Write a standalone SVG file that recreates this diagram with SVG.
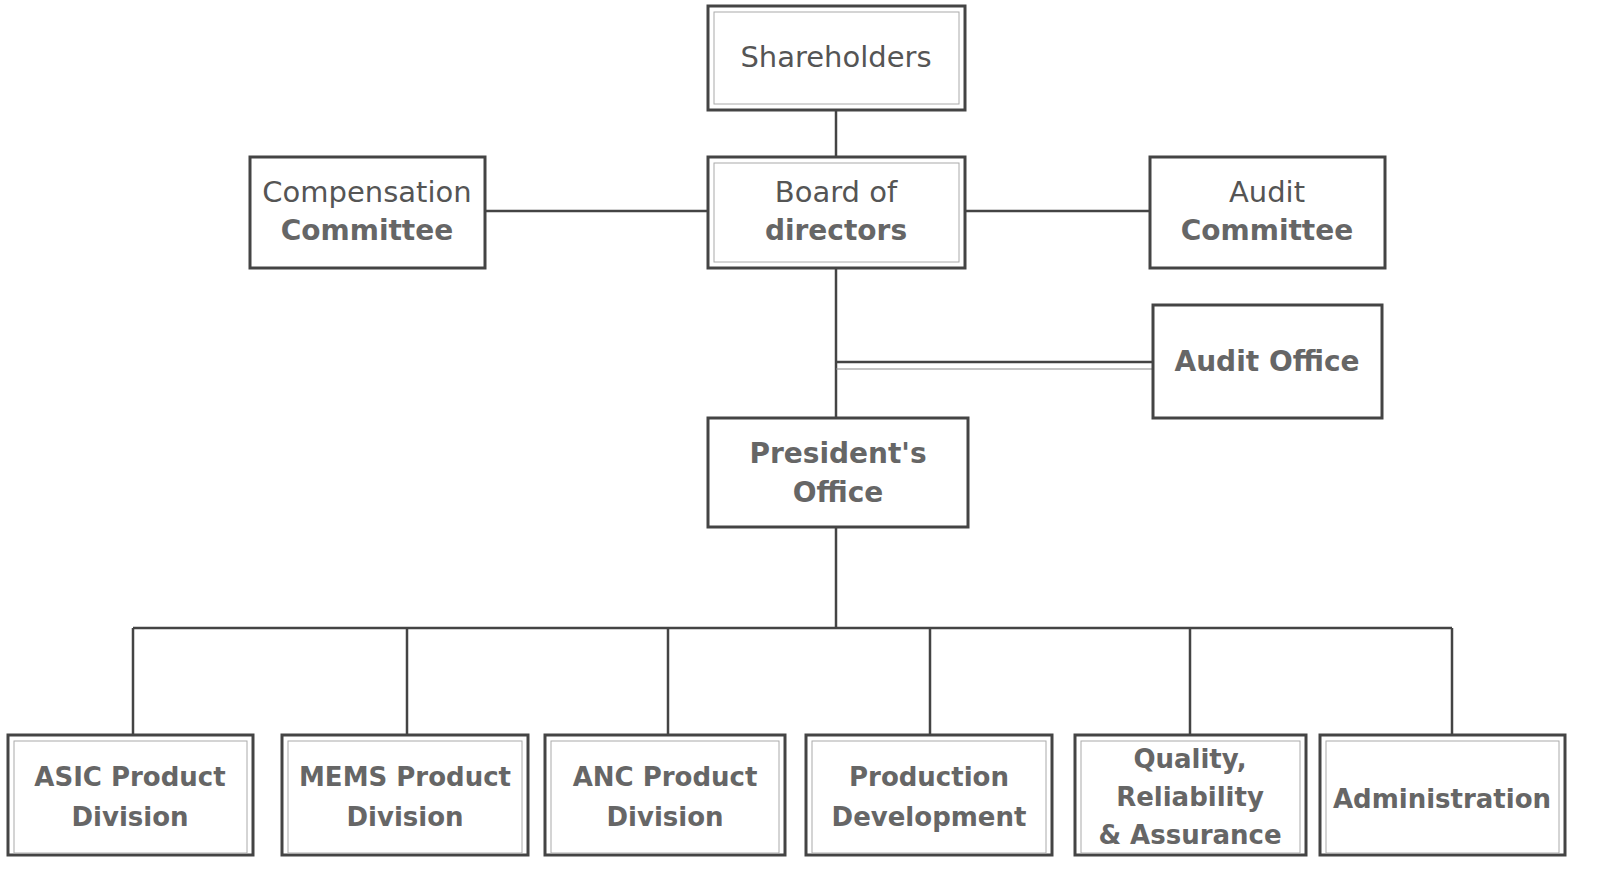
<svg xmlns="http://www.w3.org/2000/svg" width="1609" height="879" viewBox="0 0 1609 879">
<style>
.box{fill:#fff;stroke:#444;stroke-width:3}
.inner{fill:none;stroke:#aaa;stroke-width:1}
.t{font-family:"DejaVu Sans","Liberation Sans",sans-serif;font-size:29px;fill:#555;text-anchor:middle}
.b{font-weight:bold;fill:#666;font-size:28px}
.s{font-size:26px}
.c{fill:none;stroke:#444;stroke-width:2.5}
</style>
<rect width="1609" height="879" fill="#fff"/>
<g id="connectors">
<path class="c" d="M836 110V157"/>
<path class="c" d="M485 211H708"/>
<path class="c" d="M965 211H1150"/>
<path class="c" d="M836 268V418"/>
<path class="c" d="M836 362H1153"/>
<path class="c" d="M836 369H1153" style="stroke-width:1.2;stroke:#888"/>
<path class="c" d="M836 527V628"/>
<path class="c" d="M133 628H1452"/>
<path class="c" d="M133 628V735M407 628V735M668 628V735M930 628V735M1190 628V735M1452 628V735"/>
</g>
<g id="shareholders"><rect class="box" x="708" y="6" width="257" height="104"/><rect class="inner" x="714" y="12" width="245" height="92"/><text class="t" x="836" y="67">Shareholders</text></g>
<g id="compensation"><rect class="box" x="250" y="157" width="235" height="111"/><text class="t" x="367" y="202">Compensation</text><text class="t b" x="367" y="240">Committee</text></g>
<g id="board"><rect class="box" x="708" y="157" width="257" height="111"/><rect class="inner" x="714" y="163" width="245" height="99"/><text class="t" x="836" y="202">Board of</text><text class="t b" x="836" y="240">directors</text></g>
<g id="audit-committee"><rect class="box" x="1150" y="157" width="235" height="111"/><text class="t" x="1267" y="202">Audit</text><text class="t b" x="1267" y="240">Committee</text></g>
<g id="audit-office"><rect class="box" x="1153" y="305" width="229" height="113"/><text class="t b" x="1267" y="371">Audit Office</text></g>
<g id="president"><rect class="box" x="708" y="418" width="260" height="109"/><text class="t b" x="838" y="463">President's</text><text class="t b" x="838" y="502">Office</text></g>
<g id="asic"><rect class="box" x="8" y="735" width="245" height="120"/><rect class="inner" x="14" y="741" width="233" height="112"/><text class="t b s" x="130" y="786">ASIC Product</text><text class="t b s" x="130" y="826">Division</text></g>
<g id="mems"><rect class="box" x="282" y="735" width="246" height="120"/><rect class="inner" x="288" y="741" width="234" height="112"/><text class="t b s" x="405" y="786">MEMS Product</text><text class="t b s" x="405" y="826">Division</text></g>
<g id="anc"><rect class="box" x="545" y="735" width="240" height="120"/><rect class="inner" x="551" y="741" width="228" height="112"/><text class="t b s" x="665" y="786">ANC Product</text><text class="t b s" x="665" y="826">Division</text></g>
<g id="production"><rect class="box" x="806" y="735" width="246" height="120"/><rect class="inner" x="812" y="741" width="234" height="112"/><text class="t b s" x="929" y="786">Production</text><text class="t b s" x="929" y="826">Development</text></g>
<g id="quality"><rect class="box" x="1075" y="735" width="231" height="120"/><rect class="inner" x="1081" y="741" width="219" height="112"/><text class="t b s" x="1190" y="768">Quality,</text><text class="t b s" x="1190" y="806">Reliability</text><text class="t b s" x="1190" y="844">&amp; Assurance</text></g>
<g id="administration"><rect class="box" x="1320" y="735" width="245" height="120"/><rect class="inner" x="1326" y="741" width="233" height="112"/><text class="t b s" x="1442" y="808">Administration</text></g>
</svg>
